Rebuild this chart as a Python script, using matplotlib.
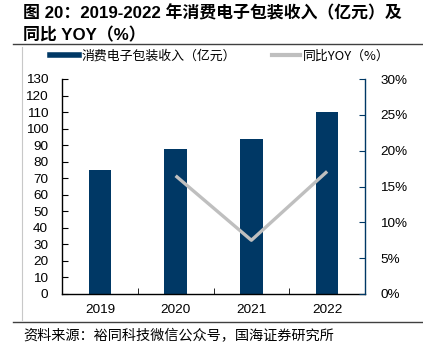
import numpy as np
import matplotlib.pyplot as plt
from matplotlib.lines import Line2D

# data
years = ['2019', '2020', '2021', '2022']
revenue = [75, 87.5, 94, 110]          # 消费电子包装收入（亿元）
yoy = [np.nan, 16.5, 7.5, 17.1]         # 同比YOY（%）

NAVY = '#003865'
GREY = '#BFBFBF'
CJK = ['Noto Sans CJK SC', 'DejaVu Sans']
LAT = ['Liberation Sans', 'Noto Sans CJK SC']

W, H = 423, 349
fig = plt.figure(figsize=(W / 100, H / 100), dpi=100)

def px(x0, y0, x1, y1):
    return [x0 / W, 1 - y1 / H, (x1 - x0) / W, (y1 - y0) / H]

ax = fig.add_axes(px(62, 79, 365, 294))
x = np.arange(len(years))
ax.bar(x, revenue, width=0.30, color=NAVY, zorder=2)
ax.set_xlim(-0.5, 3.5)
ax.set_ylim(0, 130)
ax.set_yticks(range(0, 131, 10))
ax.set_xticks(x)
ax.set_xticklabels(years)
ax.set_xticks(np.arange(-0.5, 3.6, 1.0), minor=True)
ax.tick_params(axis='x', which='both', direction='in', length=4, pad=7,
               labelsize=9.7, color='black')
ax.tick_params(axis='y', direction='in', length=4, pad=10, labelsize=9.7)
for lab in ax.get_xticklabels() + ax.get_yticklabels():
    lab.set_family(LAT)
for s in ['top', 'right']:
    ax.spines[s].set_visible(False)
ax.spines['left'].set_linewidth(1.0)
ax.spines['bottom'].set_linewidth(1.0)

ax2 = ax.twinx()
ax2.plot(x, yoy, color=GREY, lw=2.4, solid_capstyle='butt', zorder=3)
ax2.set_ylim(0, 30)
ax2.set_yticks(range(0, 31, 5))
ax2.set_yticklabels([f'{v}%' for v in range(0, 31, 5)], family=LAT)
ax2.tick_params(axis='y', direction='in', length=4, pad=11, labelsize=9.7,
                color=NAVY)
for s in ['top', 'left', 'bottom']:
    ax2.spines[s].set_visible(False)
ax2.spines['right'].set_color(NAVY)
ax2.spines['right'].set_linewidth(1.0)

# legend
handles = [Line2D([], [], color=NAVY, lw=4), Line2D([], [], color=GREY, lw=3)]
fig.legend(handles, ['消费电子包装收入（亿元）', '同比YOY（%）'],
           loc='center', bbox_to_anchor=(220 / W, 1 - 56 / H), ncol=2,
           frameon=False, handlelength=2.2, handletextpad=0.2, columnspacing=2.8,
           prop={'family': CJK, 'size': 9.3, 'weight': 'light'})

# title and frame
fig.text(23 / W, 1 - 13 / H, '图 20：2019-2022 年消费电子包装收入（亿元）及',
         family=LAT, fontsize=12.2, fontweight='bold', va='center', ha='left')
fig.text(23 / W, 1 - 35 / H, '同比 YOY（%）',
         family=LAT, fontsize=12.2, fontweight='bold', va='center', ha='left')
fig.add_artist(Line2D([13 / W, 1], [1 - 44 / H] * 2, color='#404040', lw=1.0))
fig.add_artist(Line2D([13 / W, 1], [1 - 322 / H] * 2, color='#404040', lw=1.0))
fig.add_artist(Line2D([22 / W] * 2, [1 - 47 / H, 1 - 320 / H], color='#C8C8C8', lw=0.8))
fig.text(23 / W, 1 - 336 / H, '资料来源：裕同科技微信公众号，国海证券研究所',
         family=CJK, fontsize=10.2, va='center', ha='left', fontweight='light')

fig.savefig('out.png', dpi=100)
